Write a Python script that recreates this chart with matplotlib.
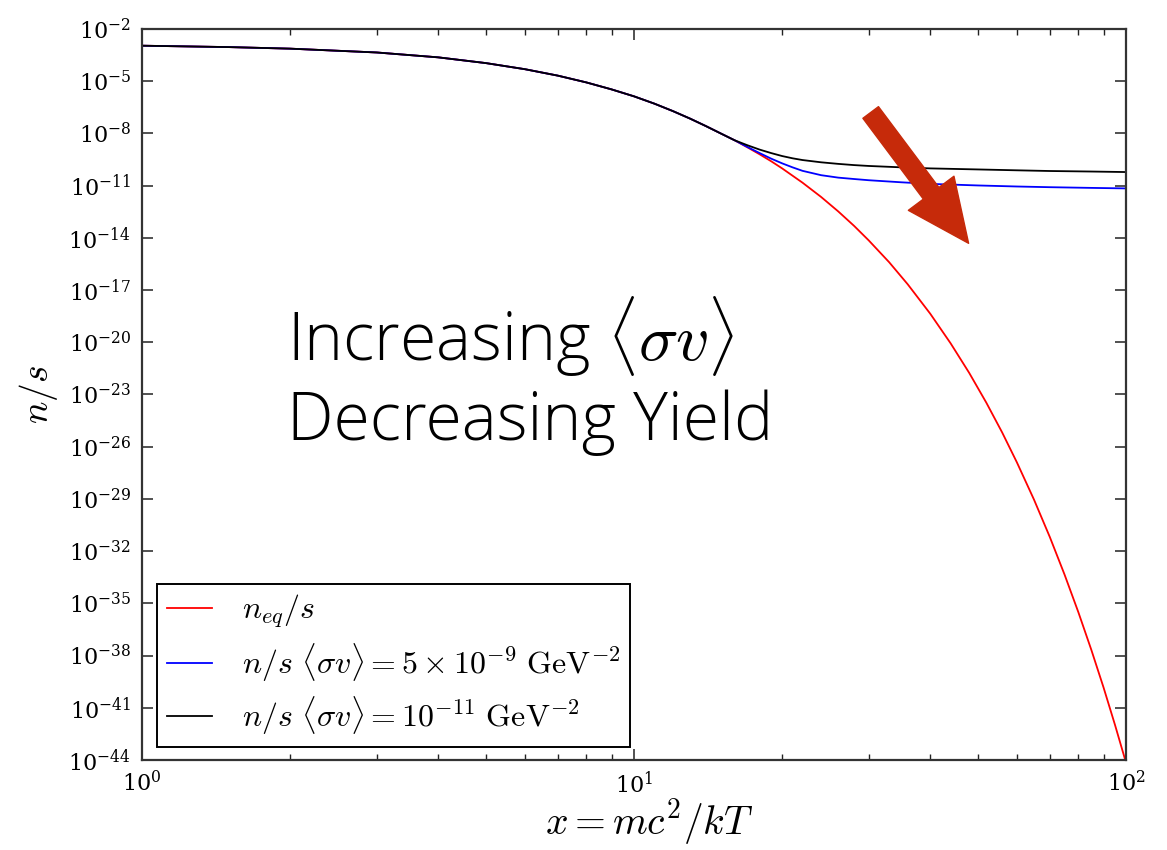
import math
import matplotlib
matplotlib.use('Agg')
import matplotlib.pyplot as plt
from matplotlib.patches import FancyArrowPatch
from matplotlib.ticker import FixedLocator, FuncFormatter, LogLocator, NullFormatter

plt.rcParams['font.family'] = 'DejaVu Serif'
plt.rcParams['mathtext.fontset'] = 'cm'

# x = mc^2/kT up to the point where the three curves split
x_early = [1, 1.5, 2, 3, 4, 5, 6, 7, 8, 9, 10, 11, 12, 13, 14, 15, 16]
logy_early = [-2.96, -3.04, -3.13, -3.35, -3.63, -3.96, -4.31, -4.68, -5.07,
              -5.47, -5.87, -6.29, -6.72, -7.15, -7.58, -8.00, -8.39]

# equilibrium yield n_eq/s (log10)
x_eq = [17, 18, 19, 20, 22, 24, 26, 28, 30, 33, 36, 40, 44, 48, 52, 56, 60,
        65, 70, 75, 80, 85, 90, 95, 100]
logy_eq = [-8.80, -9.20, -9.60, -10.01, -10.83, -11.65, -12.48, -13.31, -14.15,
           -15.40, -16.67, -18.36, -20.06, -21.76, -23.47, -25.18, -26.90,
           -29.04, -31.19, -33.35, -35.51, -37.67, -39.83, -42.00, -44.16]

# n/s for <sigma v> = 5e-9 GeV^-2 (log10)
x_blue = [17, 18, 19, 20, 21, 22, 24, 26, 28, 30, 35, 40, 50, 60, 70, 85, 100]
logy_blue = [-8.78, -9.13, -9.45, -9.72, -9.95, -10.15, -10.40, -10.54, -10.62,
             -10.69, -10.81, -10.90, -10.99, -11.05, -11.09, -11.13, -11.16]

# n/s for <sigma v> = 1e-11 GeV^-2 (log10)
x_black = [17, 18, 19, 20, 21, 22, 24, 26, 28, 30, 35, 40, 50, 60, 70, 85, 100]
logy_black = [-8.68, -8.93, -9.13, -9.30, -9.43, -9.53, -9.66, -9.75, -9.82,
              -9.87, -9.95, -10.01, -10.07, -10.12, -10.16, -10.19, -10.22]

labels = [r'$n_{eq}/s$',
          r'$n/s\ \langle\sigma v\rangle = 5\times10^{-9}\ \mathrm{GeV}^{-2}$',
          r'$n/s\ \langle\sigma v\rangle = 10^{-11}\ \mathrm{GeV}^{-2}$']

y_exponents = list(range(-2, -45, -3))


def pow10(vals):
    return [10.0 ** v for v in vals]


def exp_label(v, pos):
    return r'$\mathdefault{10^{%d}}$' % round(math.log10(v))


fig = plt.figure(figsize=(11.67, 8.5), dpi=100)
ax = fig.add_axes([0.1217, 0.1059, 0.8432, 0.8600])

ax.loglog(x_early + x_eq, pow10(logy_early + logy_eq), color='red', lw=1.3, label=labels[0])
ax.loglog(x_early + x_blue, pow10(logy_early + logy_blue), color='blue', lw=1.3, label=labels[1])
ax.loglog(x_early + x_black, pow10(logy_early + logy_black), color='black', lw=1.3, label=labels[2])

ax.set_xlim(1, 100)
ax.set_ylim(1e-44, 1e-2)

ax.yaxis.set_major_locator(FixedLocator([10.0 ** e for e in y_exponents]))
ax.yaxis.set_minor_locator(FixedLocator([]))
ax.yaxis.set_major_formatter(FuncFormatter(exp_label))
ax.xaxis.set_major_locator(LogLocator(base=10))
ax.xaxis.set_minor_locator(LogLocator(base=10, subs=range(2, 10)))
ax.xaxis.set_minor_formatter(NullFormatter())
ax.xaxis.set_major_formatter(FuncFormatter(exp_label))

ax.tick_params(which='both', direction='in', top=True, right=True,
               labelsize=16, color='#222222')
ax.tick_params(which='major', length=8, width=1.1, pad=8)
ax.tick_params(which='minor', length=4, width=1.0)
for s in ax.spines.values():
    s.set_linewidth(1.6)
    s.set_color('#333333')

ax.set_xlabel(r'$x = mc^2/kT$', fontsize=28.5)
ax.xaxis.set_label_coords(0.515, -0.051, transform=ax.transAxes)
ax.xaxis.label.set_va('top')
ax.set_ylabel(r'$n/s$', fontsize=27, labelpad=6)

leg = ax.legend(loc='lower left', bbox_to_anchor=(0.0152, 0.0178),
                borderaxespad=0, fontsize=23, fancybox=False,
                edgecolor='black', framealpha=1, handlelength=1.42,
                handletextpad=0.93, labelspacing=0.34, borderpad=0.3)
leg.get_frame().set_linewidth(1.4)

ax.text(0.147, 0.4378, 'Increasing $\\langle\\sigma v\\rangle$\nDecreasing Yield',
        transform=ax.transAxes, fontsize=47.5, family='Open Sans', fontweight='light',
        linespacing=1.2, va='baseline', ha='left', color='black')

arrow = FancyArrowPatch((0.7405, 0.8858), (0.840, 0.7068),
                        transform=ax.transAxes, mutation_scale=1,
                        arrowstyle='simple,head_length=45,head_width=41,tail_width=14',
                        color='#c62a0a', shrinkA=0, shrinkB=0, zorder=5)
ax.add_patch(arrow)

fig.savefig('out.png', dpi=100)
